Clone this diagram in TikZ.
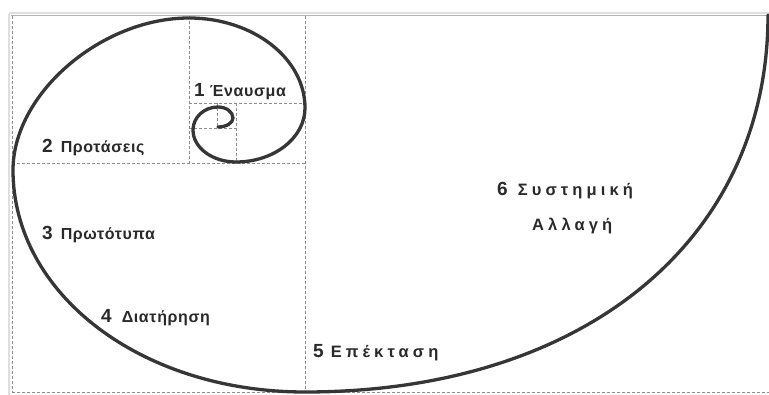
\documentclass[tikz,border=0pt]{standalone}
\usepackage{fontspec}
\setmainfont{Liberation Sans}
\newfontfamily\lblfont[LetterSpace=4]{Liberation Sans}
\newfontfamily\widefont[LetterSpace=25]{Liberation Sans}
\definecolor{spiralc}{HTML}{363636}
\definecolor{gridc}{HTML}{8C8C8C}
\definecolor{textc}{HTML}{2A2A2A}
\newcommand{\numf}{\fontsize{19}{18}\selectfont\bfseries}
\newcommand{\smallf}{\fontsize{16}{17}\selectfont\lblfont}
\newcommand{\bigf}{\fontsize{16.5}{17}\selectfont\widefont\bfseries}
\begin{document}
\begin{tikzpicture}[x=1pt,y=-1pt,
  gridline/.style={draw=gridc, line width=0.8pt, dash pattern=on 3pt off 2pt},
  spiralline/.style={draw=spiralc, line width=3.3pt, line cap=round},
  lbl/.style={anchor=base west, inner sep=0pt, text=textc}]
\useasboundingbox (0,0) rectangle (769,395);
\fill[white] (0,0) rectangle (769,395);
% frame shadow
\draw[gray!25, line width=2.5pt] (9,14) -- (9,395);
\draw[gray!25, line width=2.5pt] (9,13) -- (769,13);
\draw[gray!60, line width=1.2pt] (11,15.5) -- (769,15.5);
% frame dashed
\draw[gridline] (12,16) -- (12,393);
\draw[gridline] (12,392.5) -- (769,392.5);
% grid
\draw[gridline] (305,16) -- (305,392);
\draw[gridline] (12,163) -- (305,163);
\draw[gridline] (189,16) -- (189,163);
\draw[gridline] (189,103) -- (305,103);
\draw[gridline] (236,103) -- (236,163);
\draw[gridline] (189,128) -- (236,128);
\draw[gridline] (217,103) -- (217,128);
% spiral
\draw[spiralline] (218,127)
  .. controls (226.3,127) and (233,123) .. (233,118)
  .. controls (233,112) and (226.3,107) .. (218,107)
  .. controls (204.2,107) and (193,117.3) .. (193,130)
  .. controls (193,147.7) and (212.3,162) .. (236,162)
  .. controls (274.1,162) and (305,137.8) .. (305,108)
  .. controls (305,58.3) and (253,18) .. (189,18)
  .. controls (101,18) and (13,94) .. (13,170)
  .. controls (13,294) and (141,392) .. (305,392)
  .. controls (583,392) and (768,241) .. (768,15);
% labels
\node[lbl] (l1) at (194,97) {\numf 1\hspace{5pt}\smallf Έναυσμα};
\node[lbl] (l2) at (42,153) {\numf 2\hspace{8pt}\smallf Προτάσεις};
\node[lbl] (l3) at (42,240) {\numf 3\hspace{8pt}\smallf Πρωτότυπα};
\node[lbl] (l4) at (101,323) {\numf 4\hspace{10pt}\smallf Διατήρηση};
\node[lbl] (l5) at (313,358) {\numf 5\hspace{7pt}\bigf Επέκταση};
\node[lbl] (l6) at (497,196) {\numf 6\hspace{10pt}\bigf Συστημική};
\node[lbl] (l6b) at (532,231) {\bigf Αλλαγή};
\end{tikzpicture}
\end{document}
